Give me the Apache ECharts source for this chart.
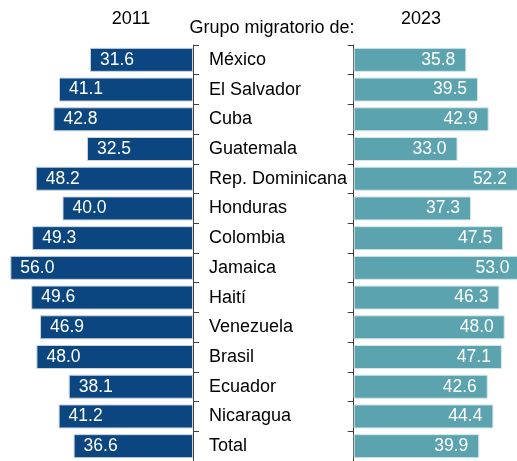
<!DOCTYPE html>
<html>
<head>
<meta charset="utf-8">
<script src="https://cdn.jsdelivr.net/npm/echarts@6/dist/echarts.min.js"></script>
<style>html,body{margin:0;padding:0;background:#fff}#c{width:517px;height:461px}</style>
</head>
<body>
<div id="c"></div>
<script>
const categories = ["México","El Salvador","Cuba","Guatemala","Rep. Dominicana","Honduras","Colombia","Jamaica","Haití","Venezuela","Brasil","Ecuador","Nicaragua","Total"];
const values2011 = [31.6,41.1,42.8,32.5,48.2,40.0,49.3,56.0,49.6,46.9,48.0,38.1,41.2,36.6];
const values2023 = [35.8,39.5,42.9,33.0,52.2,37.3,47.5,53.0,46.3,48.0,47.1,42.6,44.4,39.9];
const titleLeft = "2011";
const titleRight = "2023";
const titleCenter = "Grupo migratorio de:";

const FONT = "Liberation Sans, Arial, sans-serif";
const chart = echarts.init(document.getElementById('c'), null, {renderer:'canvas'});
const fmt = p => p.value.toFixed(1);
const tStyle = {fontFamily:FONT,fontSize:18,fontWeight:'normal',color:'#000'};
chart.setOption({
  animation:false,
  textStyle:{fontFamily:FONT},
  title:[
    {text:titleLeft, left:131, top:10, padding:0, textAlign:'center', textStyle:tStyle},
    {text:titleRight, left:421, top:10, padding:0, textAlign:'center', textStyle:tStyle},
    {text:titleCenter, left:272, top:19, padding:0, textAlign:'center', textStyle:tStyle}
  ],
  grid:[
    {left:0, width:193, top:45, height:420},
    {left:353.7, right:0, top:45, height:420}
  ],
  xAxis:[
    {gridIndex:0, type:'value', inverse:true, min:0, max:59.17, show:false},
    {gridIndex:1, type:'value', min:0, max:51.9, show:false}
  ],
  yAxis:[
    {gridIndex:0, type:'category', data:categories, inverse:true, position:'right',
     axisLine:{lineStyle:{color:'#404040',width:1}},
     axisTick:{show:true,length:6,lineStyle:{color:'#404040'}},
     axisLabel:{margin:16, align:'left', color:'#000', fontSize:18, fontFamily:FONT}},
    {gridIndex:1, type:'category', data:categories, inverse:true, position:'left',
     axisLine:{lineStyle:{color:'#404040',width:1}},
     axisTick:{show:true,length:6,lineStyle:{color:'#404040'}},
     axisLabel:{show:false}}
  ],
  series:[
    {type:'bar', xAxisIndex:0, yAxisIndex:0, data:values2011, barWidth:24, clip:false,
     itemStyle:{color:'#0B4680', borderColor:'#c9d3dc', borderWidth:1},
     label:{show:true, position:'insideLeft', formatter:fmt, color:'#fff', fontSize:17.5, fontFamily:FONT, distance:10}},
    {type:'bar', xAxisIndex:1, yAxisIndex:1, data:values2023, barWidth:24, clip:false,
     itemStyle:{color:'#5BA4AF', borderColor:'#d4e6e9', borderWidth:1},
     label:{show:true, position:'insideRight', formatter:fmt, color:'#fff', fontSize:17.5, fontFamily:FONT, distance:11}}
  ]
});
</script>
</body>
</html>
